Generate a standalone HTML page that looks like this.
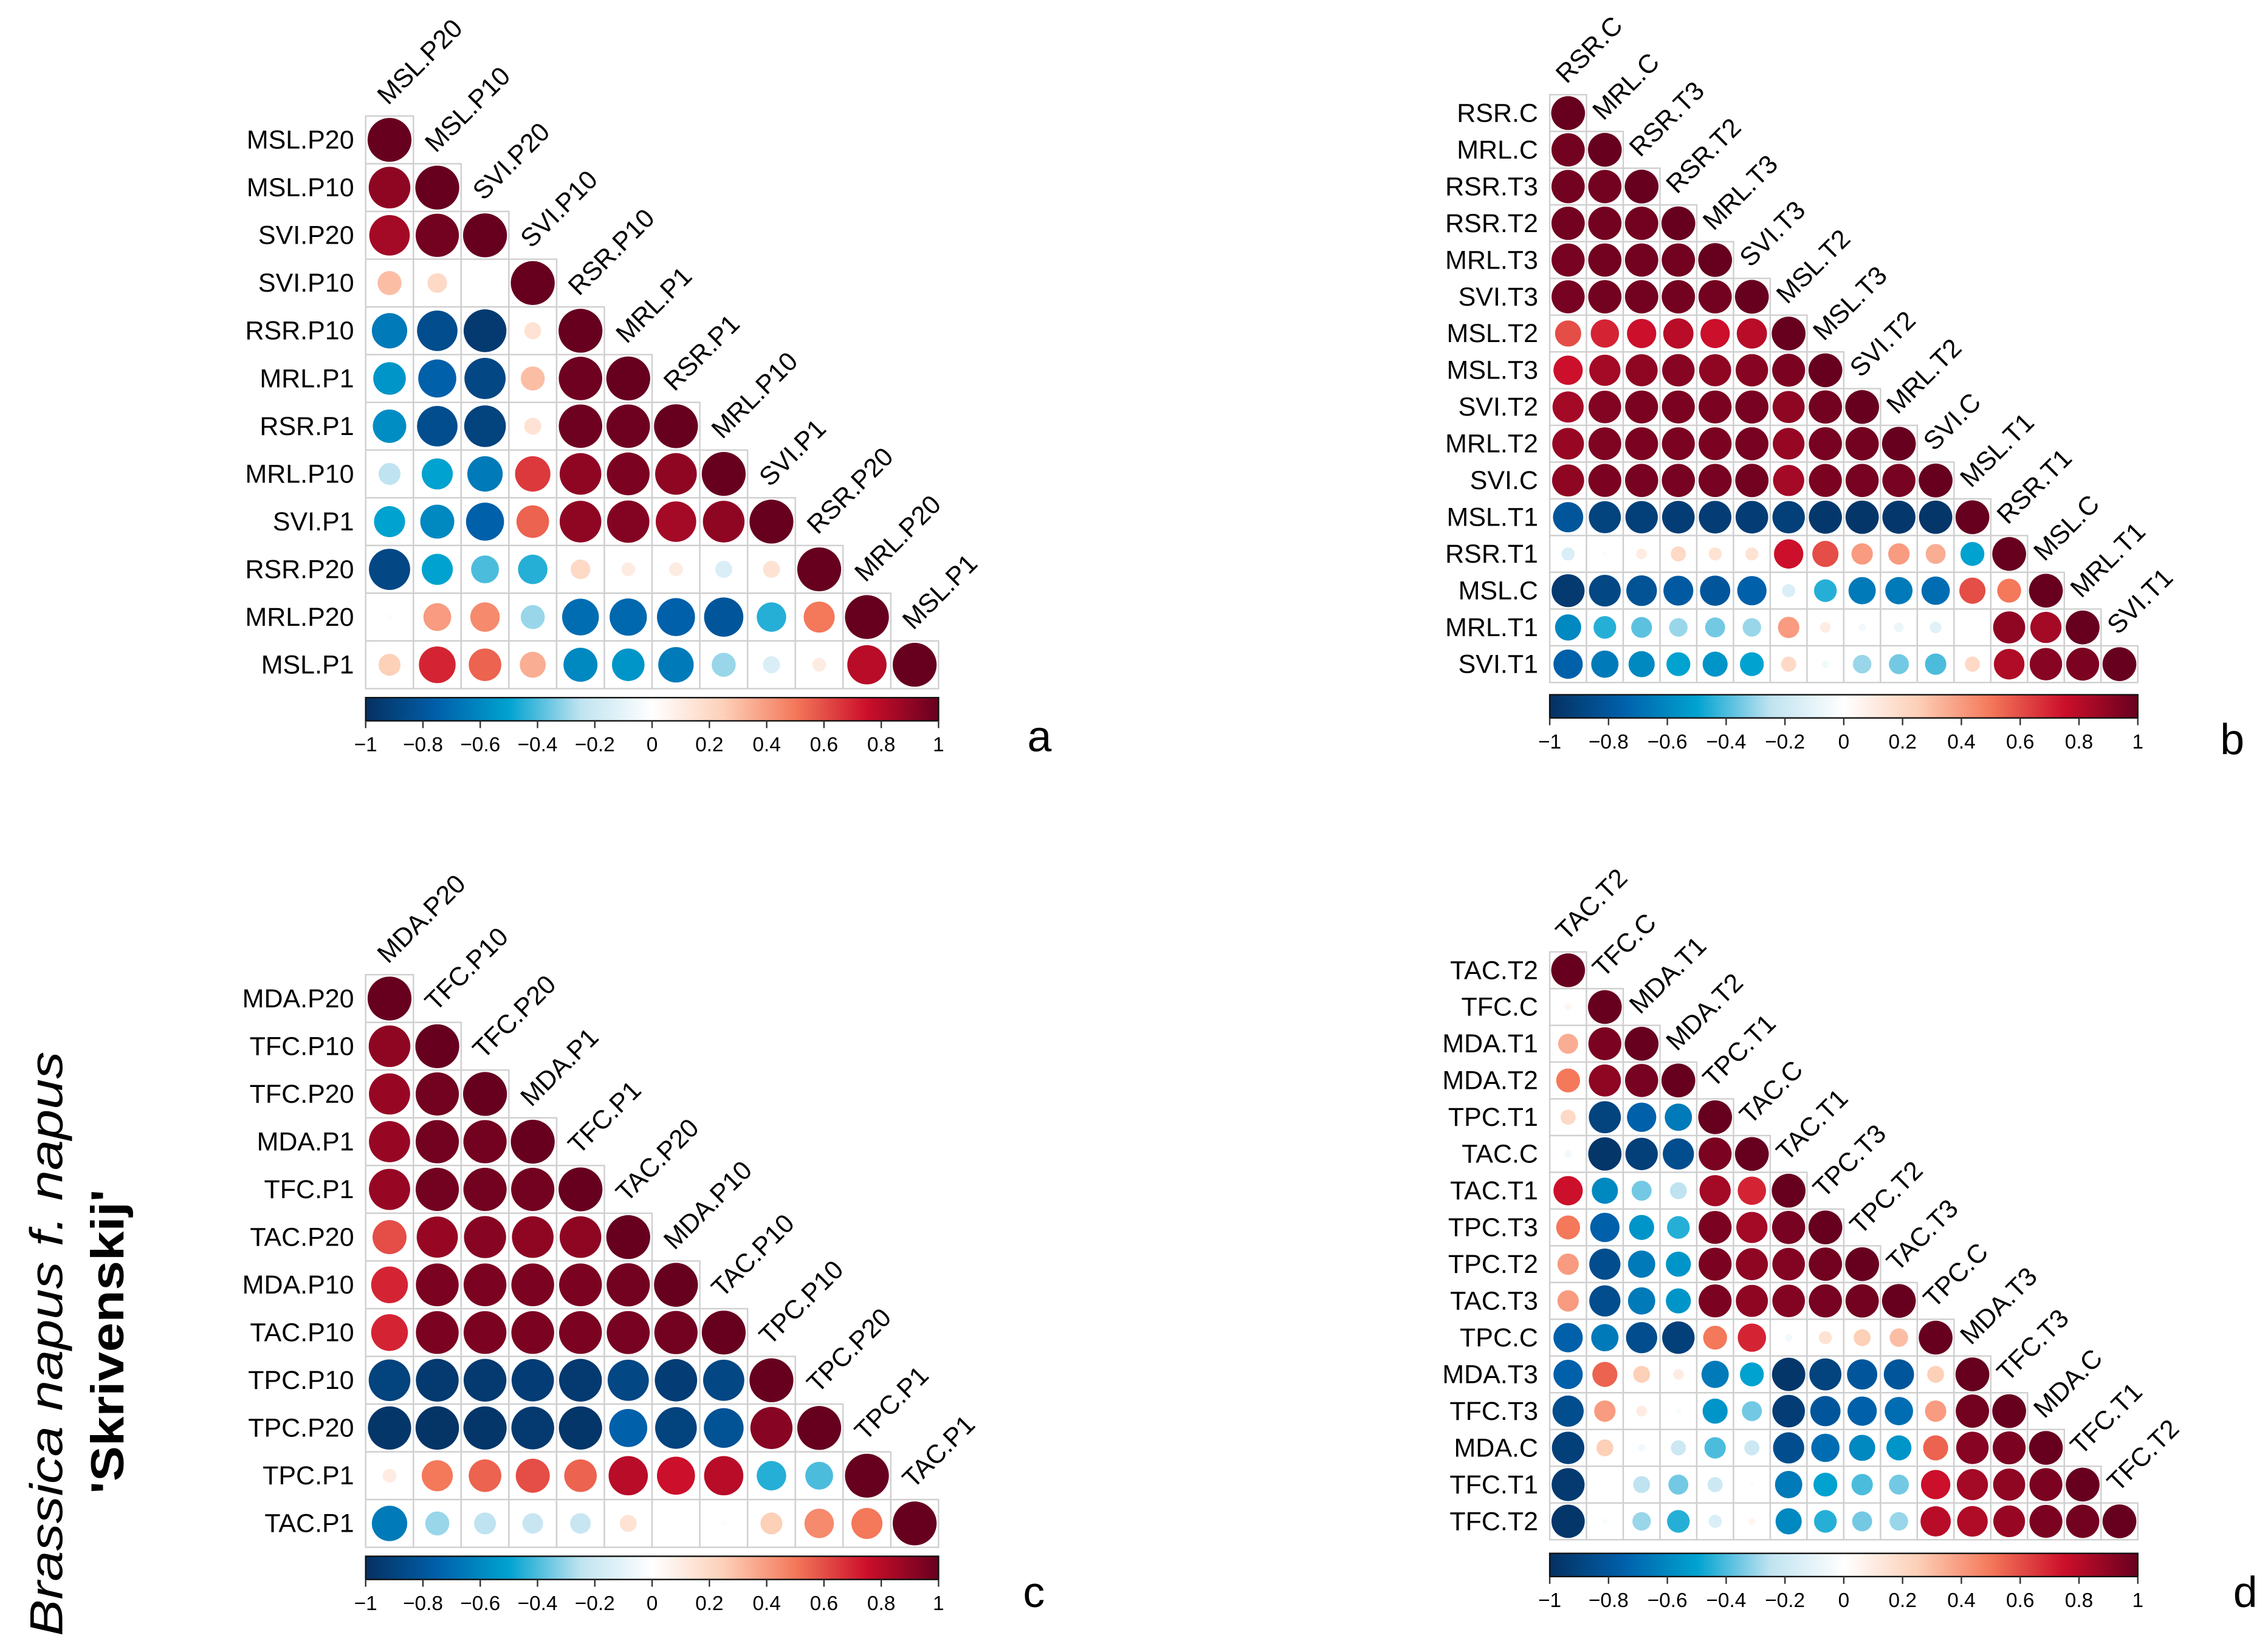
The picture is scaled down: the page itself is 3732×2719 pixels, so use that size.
<!DOCTYPE html>
<html><head><meta charset="utf-8"><style>
html,body{margin:0;padding:0;background:#fff;}
svg{display:block;}
text{font-family:"Liberation Sans",sans-serif;}
</style></head><body>
<svg id="fig" xmlns="http://www.w3.org/2000/svg" width="3732" height="2719" viewBox="0 0 1563 1139" preserveAspectRatio="none">
<rect x="0" y="0" width="1563" height="1139" fill="#fff"/>
<g>
<text transform="translate(43,1128) rotate(-90)" font-size="32" font-style="italic" textLength="403" lengthAdjust="spacingAndGlyphs">Brassica napus f. napus</text>
<text transform="translate(85,1030) rotate(-90)" font-size="32" font-weight="bold" textLength="210" lengthAdjust="spacingAndGlyphs">'Skrivenskij'</text>
</g>
</svg>
<script>
// Panel a
const varsA = ["MSL.P20","MSL.P10","SVI.P20","SVI.P10","RSR.P10","MRL.P1","RSR.P1","MRL.P10","SVI.P1","RSR.P20","MRL.P20","MSL.P1"];
const corrA = [
 [],
 [0.9],
 [0.85,0.97],
 [0.3,0.2,0.0],
 [-0.65,-0.85,-0.95,0.15],
 [-0.55,-0.75,-0.88,0.3,0.98],
 [-0.58,-0.85,-0.9,0.15,0.98,0.98],
 [-0.25,-0.5,-0.65,0.65,0.9,0.95,0.9],
 [-0.5,-0.6,-0.75,0.55,0.9,0.93,0.85,0.9],
 [-0.88,-0.5,-0.4,-0.45,0.2,0.1,0.1,-0.15,0.15],
 [-0.02,0.4,0.45,-0.3,-0.7,-0.72,-0.75,-0.8,-0.45,0.5],
 [0.25,0.7,0.55,0.35,-0.6,-0.55,-0.65,-0.3,-0.15,0.1,0.8]
];
// Panel b
const varsB = ["RSR.C","MRL.C","RSR.T3","RSR.T2","MRL.T3","SVI.T3","MSL.T2","MSL.T3","SVI.T2","MRL.T2","SVI.C","MSL.T1","RSR.T1","MSL.C","MRL.T1","SVI.T1"];
const corrB = [
 [],
 [0.97],
 [0.97,0.97],
 [0.97,0.97,0.97],
 [0.96,0.97,0.97,0.97],
 [0.96,0.97,0.97,0.97,0.97],
 [0.6,0.7,0.75,0.8,0.75,0.8],
 [0.75,0.85,0.9,0.92,0.9,0.92,0.95],
 [0.85,0.93,0.95,0.95,0.95,0.96,0.9,0.97],
 [0.88,0.94,0.95,0.95,0.95,0.96,0.88,0.96,0.97],
 [0.9,0.95,0.96,0.96,0.96,0.97,0.85,0.95,0.96,0.96],
 [-0.8,-0.9,-0.92,-0.93,-0.93,-0.93,-0.92,-0.96,-0.97,-0.96,-0.97],
 [-0.15,-0.02,0.1,0.2,0.15,0.15,0.75,0.6,0.4,0.4,0.35,-0.5],
 [-0.95,-0.88,-0.82,-0.78,-0.8,-0.75,-0.15,-0.45,-0.65,-0.65,-0.7,0.6,0.5],
 [-0.6,-0.45,-0.38,-0.3,-0.35,-0.3,0.4,0.1,-0.05,-0.08,-0.12,0.0,0.9,0.85],
 [-0.75,-0.65,-0.6,-0.5,-0.55,-0.5,0.2,-0.05,-0.3,-0.35,-0.4,0.2,0.82,0.92,0.95]
];
// Panel c
const varsC = ["MDA.P20","TFC.P10","TFC.P20","MDA.P1","TFC.P1","TAC.P20","MDA.P10","TAC.P10","TPC.P10","TPC.P20","TPC.P1","TAC.P1"];
const corrC = [
 [],
 [0.9],
 [0.88,0.97],
 [0.88,0.97,0.97],
 [0.88,0.97,0.97,0.97],
 [0.6,0.88,0.92,0.9,0.9],
 [0.7,0.95,0.95,0.95,0.95,0.97],
 [0.7,0.95,0.95,0.95,0.95,0.96,0.97],
 [-0.9,-0.95,-0.95,-0.93,-0.95,-0.88,-0.93,-0.88],
 [-0.97,-0.98,-0.97,-0.95,-0.97,-0.75,-0.9,-0.82,0.92],
 [0.1,0.5,0.55,0.6,0.55,0.8,0.75,0.8,-0.45,-0.4],
 [-0.65,-0.3,-0.25,-0.22,-0.22,0.15,0.0,0.02,0.25,0.45,0.5]
];
// Panel d
const varsD = ["TAC.T2","TFC.C","MDA.T1","MDA.T2","TPC.T1","TAC.C","TAC.T1","TPC.T3","TPC.T2","TAC.T3","TPC.C","MDA.T3","TFC.T3","MDA.C","TFC.T1","TFC.T2"];
const corrD = [
 [],
 [0.05],
 [0.35,0.95],
 [0.5,0.9,0.96],
 [0.2,-0.9,-0.75,-0.65],
 [-0.05,-0.97,-0.92,-0.85,0.95],
 [0.75,-0.6,-0.35,-0.25,0.85,0.7],
 [0.5,-0.75,-0.55,-0.45,0.95,0.85,0.96],
 [0.4,-0.85,-0.65,-0.55,0.95,0.9,0.93,0.97],
 [0.4,-0.85,-0.65,-0.55,0.95,0.9,0.93,0.96,0.97],
 [-0.75,-0.65,-0.85,-0.92,0.5,0.7,-0.05,0.15,0.25,0.3],
 [-0.75,0.55,0.25,0.1,-0.65,-0.5,-0.97,-0.9,-0.8,-0.8,0.25],
 [-0.85,0.4,0.1,-0.03,-0.55,-0.35,-0.93,-0.8,-0.75,-0.7,0.4,0.97],
 [-0.92,0.25,-0.05,-0.2,-0.4,-0.2,-0.85,-0.7,-0.6,-0.55,0.55,0.92,0.95],
 [-0.95,0.0,-0.25,-0.35,-0.2,0.02,-0.65,-0.5,-0.4,-0.35,0.75,0.85,0.9,0.95],
 [-0.97,-0.03,-0.3,-0.45,-0.15,0.05,-0.6,-0.45,-0.35,-0.3,0.8,0.82,0.88,0.95,0.97]
];
const colorbarTicks = ["\u22121","\u22120.8","\u22120.6","\u22120.4","\u22120.2","0","0.2","0.4","0.6","0.8","1"];
const panelLetters = ["a","b","c","d"];

const NS = "http://www.w3.org/2000/svg";
const svg = document.getElementById("fig");
const stops = [[-1,[5,48,97]],[-0.75,[0,96,170]],[-0.5,[0,162,208]],[-0.25,[191,227,240]],[0,[255,255,255]],[0.25,[253,208,184]],[0.5,[244,120,90]],[0.75,[204,15,42]],[1,[103,0,31]]];
function colorOf(v){
  v=Math.max(-1,Math.min(1,v));
  for(let i=0;i<stops.length-1;i++){
    const a=stops[i],b=stops[i+1];
    if(v<=b[0]){const t=(v-a[0])/(b[0]-a[0]);
      const c=a[1].map((x,k)=>Math.round(x+(b[1][k]-x)*t));
      return "rgb("+c.join(",")+")";}
  }
  return "rgb(103,0,31)";
}
function el(tag,attrs,parent){const e=document.createElementNS(NS,tag);for(const k in attrs)e.setAttribute(k,attrs[k]);parent.appendChild(e);return e;}

function drawPanel(id,vars,corr,left,top,cell,cbY,letter,letterX,letterY){
  const g=el("g",{},svg);
  
  
  const n=vars.length;
  const xOf=j=>left+j*cell, yOf=i=>top+i*cell;
  for(let i=0;i<n;i++){
    for(let j=0;j<=i;j++){
      const r=el("rect",{x:xOf(j),y:yOf(i),width:cell,height:cell,fill:"#fff",stroke:"#cfcfcf","stroke-width":1},g);
      
      
    }
  }
  for(let i=0;i<n;i++){
    for(let j=0;j<=i;j++){
      const v=(j===i)?1:corr[i][j];
      const rad=0.46*cell*Math.sqrt(Math.abs(v));
      if(rad<0.3)continue;
      const c=el("circle",{cx:xOf(j)+cell/2,cy:yOf(i)+cell/2,r:rad,fill:colorOf(v)},g);
      
      
    }
  }
  for(let i=0;i<n;i++){
    const t=el("text",{x:left-8,y:yOf(i)+cell/2+6,"text-anchor":"end","font-size":18},g);
    t.textContent=vars[i];
    
    
    const cx=xOf(i)+cell/2-1, cy=yOf(i)-7;
    const t2=el("text",{x:cx,y:cy,"font-size":18,transform:"rotate(-45 "+cx+" "+cy+")"},g);
    t2.textContent=vars[i];
    
    
  }
  const w=n*cell, cb=el("g",{},g);
  
  
  const gid="grad"+id;
  const defs=el("defs",{},cb);
  const lg=el("linearGradient",{id:gid,x1:0,x2:1,y1:0,y2:0},defs);
  for(let k=0;k<=40;k++){const v=-1+k/20;el("stop",{offset:(k/40),"stop-color":colorOf(v)},lg);}
  el("rect",{x:left,y:cbY,width:w,height:16,fill:"url(#"+gid+")",stroke:"#111","stroke-width":1},cb);
  for(let k=0;k<colorbarTicks.length;k++){
    const x=left+w*k/(colorbarTicks.length-1);
    el("line",{x1:x,x2:x,y1:cbY+16,y2:cbY+21,stroke:"#333","stroke-width":1},cb);
    const t=el("text",{x:x,y:cbY+37,"text-anchor":"middle","font-size":14},cb);
    t.textContent=colorbarTicks[k];
    
    
  }
  const L=el("text",{x:letterX,y:letterY,"font-size":30},g);
  L.textContent=letter;
  
  
}
drawPanel("a",varsA,corrA,252,80,32.9,481,panelLetters[0],708,518);
drawPanel("b",varsB,corrB,1068,65.3,25.33,479,panelLetters[1],1530,520);
drawPanel("c",varsC,corrC,252,672,32.9,1073,panelLetters[2],705,1108);
drawPanel("d",varsD,corrD,1068,656.3,25.33,1071,panelLetters[3],1539,1108);
</script>
</body></html>
